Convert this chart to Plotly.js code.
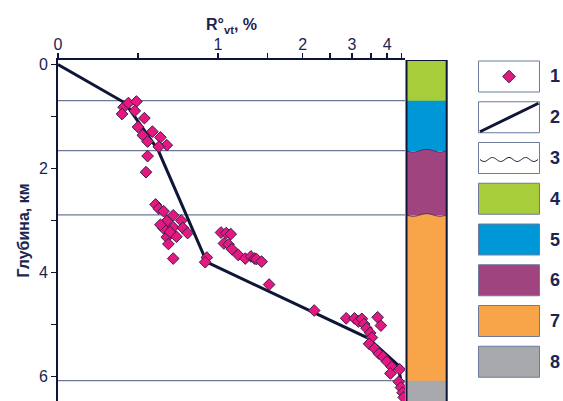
<!DOCTYPE html>
<html><head><meta charset="utf-8">
<script src="https://cdn.plot.ly/plotly-3.0.1.min.js"></script>
<style>html,body{margin:0;padding:0;background:#fff}</style>
</head><body><div id="chart" style="width:563px;height:401px"></div>
<script>
// ---- Data: vitrinite reflectance R°vt (%) vs depth (km) ----
const sampleR = [
  0.41,0.44,0.49,0.40,0.48,0.54,0.50,0.53,0.59,0.64,0.56,0.68,0.63,0.56,0.55,
  0.61,0.63,0.66,0.72,0.68,0.77,0.66,0.72,0.78,0.81,0.68,0.74,0.69,0.72,0.93,0.92,0.70,0.64,
  1.025,1.07,1.11,1.05,1.09,1.12,1.18,1.25,1.31,1.35,1.37,1.43,
  1.52,2.20,
  2.86,3.06,3.16,3.25,3.31,3.70,3.80,3.38,3.48,3.53,3.45,3.61,3.74,3.87,3.99,4.15,4.11,4.43,4.40,4.48,4.54,4.58
];
const sampleDepth = [
  0.82,0.74,0.71,0.95,0.89,1.03,1.20,1.36,1.29,1.40,1.48,1.55,1.58,1.76,2.07,
  2.69,2.77,2.82,2.90,3.01,3.00,3.15,3.13,3.14,3.24,3.32,3.31,3.45,3.73,3.71,3.80,3.22,3.08,
  3.23,3.24,3.26,3.44,3.46,3.55,3.66,3.73,3.69,3.73,3.74,3.79,
  4.23,4.73,
  4.88,4.88,4.94,4.89,4.99,4.86,5.02,5.07,5.16,5.25,5.37,5.46,5.56,5.62,5.71,5.81,5.94,5.86,6.10,6.21,6.31,6.40
];
const trendR     = [0, 0.42, 0.625, 0.93, 3.42, 4.37, 4.63];
const trendDepth = [0, 0.74, 1.64, 3.80, 5.26, 5.78, 6.47];

const xTickValues = [0,0.5,1,1.5,2,2.5,3,3.5,4,4.5];
const xTickLabels = ['0','','1','','2','','3','','4',''];
const yTickValues = [0,1,2,3,4,5,6];
const yTickLabels = ['0','','2','','4','','6'];

const layerTops   = [-0.09, 0.694, 1.656, 2.892, 6.08];
const layerBottom = 6.47;
const layerColors = ['#a8cd3a','#0097d7','#a0447f','#f7a548','#a8a9ac'];
const layerWavy   = [false, false, true, true, false];
const legendLabels = ['1','2','3','4','5','6','7','8'];

// ---- scale: linear below 1 %, logarithmic above ----
const LOGK = 1.756;
function rx(R){ return R <= 1 ? R : 1 + Math.log10(R) * LOGK; }

const NAVY = '#1b2550';
const LINE = '#0e1637';
const PINK = '#e5187f';

// helpers (pixel -> paper) for decorations outside the plot area
const PL = 58, PR = 405, PT = 60, PB = 401;
function px2x(px){ return (px - PL) / (PR - PL); }
function py2y(py){ return (PB - py) / (PB - PT); }

const shapes = [];
const annotations = [];

// horizontal boundary lines across the plot
for (let i = 1; i < layerTops.length; i++) {
  shapes.push({type:'line', xref:'paper', yref:'y', x0:0, x1:1, y0:layerTops[i], y1:layerTops[i],
    line:{color:'#6f7897', width:1.2}, layer:'below'});
}

// stratigraphic column
const cx0 = px2x(406.5), cx1 = px2x(446.7);
function wavePts(x0, x1, yb, amp, periods, n){
  const pts = [];
  for (let k = 0; k <= n; k++) {
    const x = x0 + (x1 - x0) * k / n;
    const y = yb + amp * Math.sin(2 * Math.PI * periods * k / n);
    pts.push([x, y]);
  }
  return pts;
}
for (let i = 0; i < layerTops.length; i++) {
  const top = layerTops[i];
  const bot = i + 1 < layerTops.length ? layerTops[i + 1] : layerBottom;
  if (layerWavy[i]) {
    const pts = wavePts(cx0, cx1, top, 0.025, 1.5, 30);
    let p = 'M' + pts.map(q => q[0] + ',' + q[1]).join(' L');
    p += ' L' + cx1 + ',' + (bot + 0.01) + ' L' + cx0 + ',' + (bot + 0.01) + ' Z';
    shapes.push({type:'path', xref:'paper', yref:'y', path:p, fillcolor:layerColors[i], line:{width:0}});
    const lp = 'M' + pts.map(q => q[0] + ',' + q[1]).join(' L');
    shapes.push({type:'path', xref:'paper', yref:'y', path:lp, fillcolor:'rgba(0,0,0,0)', line:{color:'#5b2b58', width:1}});
  } else {
    shapes.push({type:'rect', xref:'paper', yref:'y', x0:cx0, x1:cx1, y0:top, y1:bot + 0.01,
      fillcolor:layerColors[i], line:{width:0}});
  }
}
shapes.push({type:'rect', xref:'paper', yref:'y', x0:cx0, x1:cx1, y0:layerTops[0], y1:layerBottom + 0.1,
  fillcolor:'rgba(0,0,0,0)', line:{color:LINE, width:2}});

// legend boxes
const bx0 = px2x(478.5), bx1 = px2x(539.5);
for (let i = 0; i < 8; i++) {
  const tpx = 61 + i * 40.75, bpx = tpx + 31;
  let fill = '#ffffff';
  if (i >= 3) fill = layerColors[i - 3];
  shapes.push({type:'rect', xref:'paper', yref:'paper', x0:bx0, x1:bx1, y0:py2y(bpx), y1:py2y(tpx),
    fillcolor:fill, line:{color:'#6d7a9a', width:1}});
  const cy = tpx + 15.5;
  if (i === 0) {
    const cxp = 509, h = 6.3;
    const p = 'M' + px2x(cxp - h) + ',' + py2y(cy) + ' L' + px2x(cxp) + ',' + py2y(cy - h) +
      ' L' + px2x(cxp + h) + ',' + py2y(cy) + ' L' + px2x(cxp) + ',' + py2y(cy + h) + ' Z';
    shapes.push({type:'path', xref:'paper', yref:'paper', path:p, fillcolor:PINK, line:{color:'#3a1d4a', width:1}});
  } else if (i === 1) {
    shapes.push({type:'line', xref:'paper', yref:'paper', x0:px2x(480), y0:py2y(bpx - 1), x1:px2x(538.5), y1:py2y(tpx + 1.5),
      line:{color:LINE, width:3}});
  } else if (i === 2) {
    const pts = [];
    for (let k = 0; k <= 60; k++) {
      const xx = 480 + 58 * k / 60;
      const yy = cy + 1.5 + 2 * Math.sin(2 * Math.PI * 3.5 * k / 60);
      pts.push(px2x(xx) + ',' + py2y(yy));
    }
    shapes.push({type:'path', xref:'paper', yref:'paper', path:'M' + pts.join(' L'), fillcolor:'rgba(0,0,0,0)',
      line:{color:LINE, width:1}});
  }
  annotations.push({xref:'paper', yref:'paper', x:px2x(555), y:py2y(cy), text:'<b>' + legendLabels[i] + '</b>',
    showarrow:false, xanchor:'center', yanchor:'middle',
    font:{family:'Liberation Sans, Arial, sans-serif', size:18, color:NAVY}});
}

const traces = [
  {x: trendR.map(rx), y: trendDepth, mode:'lines', type:'scatter',
   line:{color:LINE, width:3}, hoverinfo:'skip', cliponaxis:true},
  {x: sampleR.map(rx), y: sampleDepth, mode:'markers', type:'scatter',
   marker:{symbol:'diamond', size:9, color:PINK, line:{color:'#3a1d4a', width:1}}}
];

const layout = {
  width:563, height:401,
  margin:{l:PL, r:563 - PR, t:PT, b:0, pad:0},
  paper_bgcolor:'#ffffff', plot_bgcolor:'#ffffff',
  showlegend:false,
  font:{family:'Liberation Sans, Arial, sans-serif', color:NAVY, size:16},
  xaxis:{side:'top', range:[0, rx(4.63)], tickvals:xTickValues.map(rx), ticktext:xTickLabels,
    ticks:'outside', ticklen:5, tickwidth:1.5, tickcolor:LINE, ticklabelstandoff:-3,
    showline:true, linecolor:LINE, linewidth:2, showgrid:false, zeroline:false,
    tickfont:{size:16, color:NAVY},
    title:{text:'<b>R°<sub>vt</sub>, %</b>', font:{size:16, color:NAVY}, standoff:0}},
  yaxis:{range:[layerBottom, -0.088], tickvals:yTickValues, ticktext:yTickLabels,
    ticks:'outside', ticklen:5, tickwidth:1.5, tickcolor:LINE,
    showline:true, linecolor:LINE, linewidth:2, showgrid:false, zeroline:false,
    tickfont:{size:16, color:NAVY},
    title:{text:'<b>Глубина, км</b>', font:{size:16, color:NAVY}, standoff:5}},
  shapes:shapes,
  annotations:annotations
};

Plotly.newPlot('chart', traces, layout, {displayModeBar:false, staticPlot:true});
</script>
</body></html>
